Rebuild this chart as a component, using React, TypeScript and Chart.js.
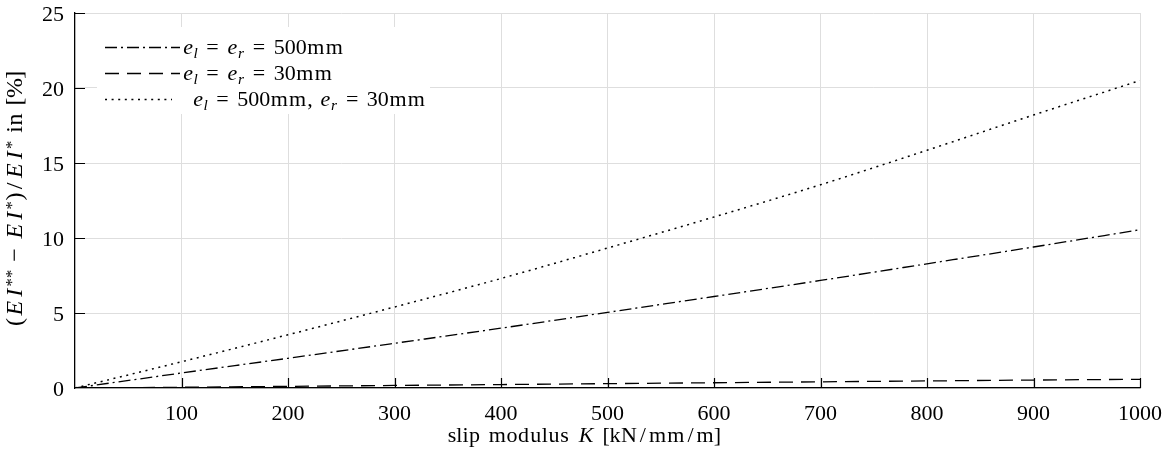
import React, { useEffect, useRef } from "react";
import { Chart, registerables } from "chart.js";

Chart.register(...registerables);

const kValues = [0, 100, 200, 300, 400, 500, 600, 700, 800, 900, 1000];
const dashDotSeries = [0, 1.0, 1.98, 2.98, 3.99, 5.04, 6.1, 7.17, 8.28, 9.4, 10.55];
const dashedSeries = [0, 0.05, 0.11, 0.17, 0.23, 0.29, 0.35, 0.41, 0.47, 0.53, 0.58];
const dottedSeries = [0, 1.75, 3.55, 5.4, 7.3, 9.33, 11.4, 13.55, 15.85, 18.2, 20.5];
const xTicks = [100, 200, 300, 400, 500, 600, 700, 800, 900, 1000];
const yTicks = [0, 5, 10, 15, 20, 25];

type Seg = { t?: string; gap?: number; it?: boolean; sup?: boolean; sub?: boolean; dy?: number };

// Computer-Modern-like advance widths (em) so spacing resembles the LaTeX original
const UPRIGHT_W: Record<string, number> = {
  "0": 0.5, "1": 0.5, "2": 0.5, "3": 0.5, "4": 0.5, "5": 0.5, "6": 0.5, "7": 0.5, "8": 0.5, "9": 0.5,
  m: 0.833, n: 0.556, i: 0.278, s: 0.394, l: 0.278, p: 0.556, o: 0.5, d: 0.556, u: 0.556,
  k: 0.528, N: 0.75, "/": 0.5, "[": 0.278, "]": 0.278, "(": 0.389, ")": 0.389, "%": 0.833,
  ",": 0.278, " ": 0.333, "=": 0.778, "−": 0.778, "*": 0.5,
};
const ITALIC_W: Record<string, number> = { E: 0.764, I: 0.518, K: 0.889, e: 0.466, l: 0.298, r: 0.451 };

const legendItems: { segs: Seg[]; dash: number[]; textDx: number }[] = [
  {
    segs: [
      { t: "e", it: true }, { t: "l", it: true, sub: true }, { gap: 0.278 }, { t: "=" }, { gap: 0.278 },
      { t: "e", it: true }, { t: "r", it: true, sub: true }, { gap: 0.278 }, { t: "=" }, { gap: 0.278 },
      { t: "500mm" },
    ],
    dash: [12, 4, 2, 4],
    textDx: 0,
  },
  {
    segs: [
      { t: "e", it: true }, { t: "l", it: true, sub: true }, { gap: 0.278 }, { t: "=" }, { gap: 0.278 },
      { t: "e", it: true }, { t: "r", it: true, sub: true }, { gap: 0.278 }, { t: "=" }, { gap: 0.278 },
      { t: "30mm" },
    ],
    dash: [14, 8],
    textDx: 0,
  },
  {
    segs: [
      { t: "e", it: true }, { t: "l", it: true, sub: true }, { gap: 0.278 }, { t: "=" }, { gap: 0.278 },
      { t: "500mm, " },
      { t: "e", it: true }, { t: "r", it: true, sub: true }, { gap: 0.278 }, { t: "=" }, { gap: 0.278 },
      { t: "30mm" },
    ],
    dash: [2, 4.6],
    textDx: 10,
  },
];

const xTitle: Seg[] = [{ t: "slip modulus " }, { t: "K", it: true }, { t: " [kN/mm/m]" }];
const yTitle: Seg[] = [
  { t: "(" }, { t: "EI", it: true }, { t: "**", sup: true, dy: -5.5 }, { gap: 0.222 }, { t: "−" }, { gap: 0.222 },
  { t: "EI", it: true }, { t: "*", sup: true, dy: -5.5 }, { t: ")/" },
  { t: "EI", it: true }, { t: "*", sup: true, dy: -5.5 }, { t: " in [%]" },
];

const FONT = '"Liberation Serif", "DejaVu Serif", serif';
const BASE = 22;
const YTITLE_SIZE = 24;

function segSize(s: Seg, base: number) {
  return s.sup || s.sub ? base * 0.7 : base;
}
function segFont(s: Seg, base: number) {
  return `${s.it ? "italic " : ""}${segSize(s, base).toFixed(1)}px ${FONT}`;
}

function charAdv(ctx: CanvasRenderingContext2D, ch: string, s: Seg, base: number) {
  const size = segSize(s, base);
  const tbl = s.it ? ITALIC_W : UPRIGHT_W;
  const w = tbl[ch];
  if (s.sup && ch === "*") return 0.5 * size;
  return w !== undefined ? w * size : ctx.measureText(ch).width;
}

function richWidth(ctx: CanvasRenderingContext2D, segs: Seg[], base: number) {
  let w = 0;
  for (const s of segs) {
    if (s.gap) { w += s.gap * base; continue; }
    ctx.font = segFont(s, base);
    for (const ch of s.t || "") w += charAdv(ctx, ch, s, base);
  }
  return w;
}

function drawRich(
  ctx: CanvasRenderingContext2D,
  segs: Seg[],
  x: number,
  y: number,
  align: "left" | "center",
  base: number
) {
  const total = richWidth(ctx, segs, base);
  let cx = align === "center" ? x - total / 2 : x;
  ctx.textBaseline = "alphabetic";
  ctx.textAlign = "left";
  for (const s of segs) {
    if (s.gap) { cx += s.gap * base; continue; }
    ctx.font = segFont(s, base);
    let dy = 0;
    if (s.sup) dy = s.dy !== undefined ? s.dy : -base * 0.4;
    if (s.sub) dy = base * 0.18;
    for (const ch of s.t || "") {
      const adv = charAdv(ctx, ch, s, base);
      const gw = ctx.measureText(ch).width;
      ctx.fillText(ch, cx + (adv - gw) / 2, y + dy);
      cx += adv;
    }
  }
}

const decorPlugin = {
  id: "decor",
  afterDatasetsDraw(chart: any) {
    const ctx: CanvasRenderingContext2D = chart.ctx;
    const { left, bottom } = chart.chartArea;
    const xs = chart.scales.x;
    const ys = chart.scales.y;
    ctx.save();
    // inward tick marks
    ctx.strokeStyle = "#000";
    ctx.lineWidth = 1.2;
    ctx.setLineDash([]);
    ctx.beginPath();
    for (const v of xTicks) {
      const px = Math.round(xs.getPixelForValue(v)) + 0.5;
      ctx.moveTo(px, bottom);
      ctx.lineTo(px, bottom - 10);
    }
    for (const v of yTicks) {
      if (v === 0) continue;
      const py = Math.round(ys.getPixelForValue(v)) + 0.5;
      ctx.moveTo(left, py);
      ctx.lineTo(left + 10, py);
    }
    ctx.stroke();

    // tick labels
    ctx.fillStyle = "#000";
    ctx.font = `${BASE}px ${FONT}`;
    ctx.textBaseline = "alphabetic";
    ctx.textAlign = "center";
    for (const v of xTicks) {
      ctx.fillText(String(v), xs.getPixelForValue(v), 420);
    }
    ctx.textAlign = "right";
    for (const v of yTicks) {
      ctx.fillText(String(v), 64, ys.getPixelForValue(v) + 7.5);
    }

    // legend
    const lx0 = 97, ly0 = 27, lw = 333, lh = 87;
    ctx.fillStyle = "#fff";
    ctx.fillRect(lx0, ly0, lw, lh);
    const rowY = [47, 73, 99];
    legendItems.forEach((it, i) => {
      ctx.strokeStyle = "#000";
      ctx.lineWidth = 1.3;
      ctx.setLineDash(it.dash);
      ctx.beginPath();
      ctx.moveTo(105, rowY[i] + 0.5);
      ctx.lineTo(i === 2 ? 172 : 180, rowY[i] + 0.5);
      ctx.stroke();
      ctx.setLineDash([]);
      ctx.fillStyle = "#000";
      drawRich(ctx, it.segs, 183 + it.textDx, rowY[i] + 7, "left", BASE);
    });

    // axis titles
    ctx.fillStyle = "#000";
    drawRich(ctx, xTitle, 584, 442, "center", BASE);
    ctx.translate(22, 199);
    ctx.rotate(-Math.PI / 2);
    drawRich(ctx, yTitle, 0, 0, "center", YTITLE_SIZE);
    ctx.restore();
  },
};

export default function App() {
  const ref = useRef<HTMLCanvasElement | null>(null);
  useEffect(() => {
    document.body.style.margin = "0";
    const canvas = ref.current;
    if (!canvas) return;
    const mk = (vals: number[]) => kValues.map((k, i) => ({ x: k, y: vals[i] }));
    const chart = new Chart(canvas, {
      type: "line",
      data: {
        datasets: [
          {
            label: "e_l = e_r = 500mm",
            data: mk(dashDotSeries),
            borderColor: "#000",
            borderWidth: 1.3,
            borderDash: [12, 4, 2, 4],
            pointRadius: 0,
            cubicInterpolationMode: "monotone",
            fill: false,
          },
          {
            label: "e_l = e_r = 30mm",
            data: mk(dashedSeries),
            borderColor: "#000",
            borderWidth: 1.3,
            borderDash: [14, 8],
            pointRadius: 0,
            cubicInterpolationMode: "monotone",
            fill: false,
          },
          {
            label: "e_l = 500mm, e_r = 30mm",
            data: mk(dottedSeries),
            borderColor: "#000",
            borderWidth: 1.5,
            borderDash: [2, 4.6],
            pointRadius: 0,
            cubicInterpolationMode: "monotone",
            fill: false,
          },
        ],
      },
      options: {
        animation: false,
        responsive: false,
        layout: { padding: { top: 13, right: 28, left: 0, bottom: 0 } },
        plugins: { legend: { display: false }, tooltip: { enabled: false } },
        scales: {
          x: {
            type: "linear",
            min: 0,
            max: 1000,
            afterFit: (s: any) => { s.height = 71; },
            afterBuildTicks: (s: any) => { s.ticks = xTicks.map((v) => ({ value: v })); },
            grid: { color: "#dedede", lineWidth: 1, drawTicks: false },
            border: { color: "#000", width: 1.3 },
            ticks: { display: false },
          },
          y: {
            type: "linear",
            min: 0,
            max: 25,
            afterFit: (s: any) => { s.width = 75; },
            afterBuildTicks: (s: any) => { s.ticks = yTicks.map((v) => ({ value: v })); },
            grid: { color: "#dedede", lineWidth: 1, drawTicks: false },
            border: { color: "#000", width: 1.3 },
            ticks: { display: false },
          },
        },
      },
      plugins: [decorPlugin],
    } as any);
    return () => chart.destroy();
  }, []);
  return <canvas ref={ref} width={1168} height={459} style={{ display: "block" }} />;
}
